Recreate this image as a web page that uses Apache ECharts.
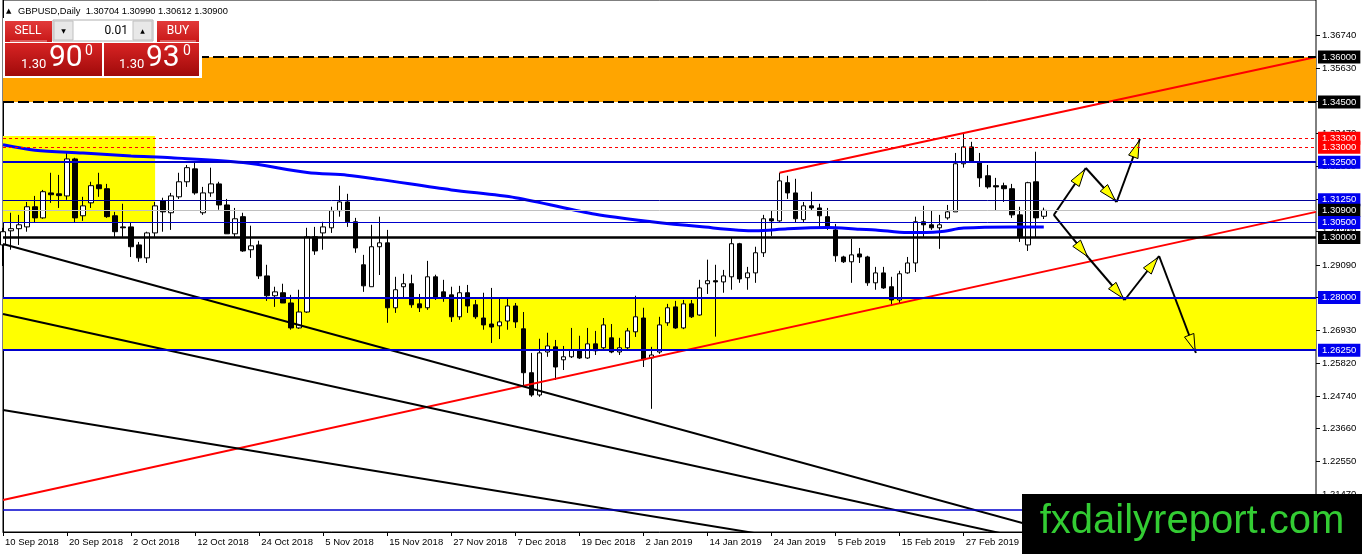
<!DOCTYPE html>
<html><head><meta charset="utf-8">
<script src="https://cdn.jsdelivr.net/npm/echarts@6/dist/echarts.min.js"></script>
<style>html,body{margin:0;padding:0;background:#fff}#c{width:1362px;height:554px}</style>
</head><body><div id="c"></div>
<script>
const dates = [
'10 Sep 2018','11 Sep 2018','12 Sep 2018','13 Sep 2018','14 Sep 2018','17 Sep 2018','18 Sep 2018','19 Sep 2018','20 Sep 2018','21 Sep 2018',
'24 Sep 2018','25 Sep 2018','26 Sep 2018','27 Sep 2018','28 Sep 2018','1 Oct 2018','2 Oct 2018','3 Oct 2018','4 Oct 2018','5 Oct 2018',
'8 Oct 2018','9 Oct 2018','10 Oct 2018','11 Oct 2018','12 Oct 2018','15 Oct 2018','16 Oct 2018','17 Oct 2018','18 Oct 2018','19 Oct 2018',
'22 Oct 2018','23 Oct 2018','24 Oct 2018','25 Oct 2018','26 Oct 2018','29 Oct 2018','30 Oct 2018','31 Oct 2018','1 Nov 2018','2 Nov 2018',
'5 Nov 2018','6 Nov 2018','7 Nov 2018','8 Nov 2018','9 Nov 2018','12 Nov 2018','13 Nov 2018','14 Nov 2018','15 Nov 2018','16 Nov 2018',
'19 Nov 2018','20 Nov 2018','21 Nov 2018','22 Nov 2018','23 Nov 2018','26 Nov 2018','27 Nov 2018','28 Nov 2018','29 Nov 2018','30 Nov 2018',
'3 Dec 2018','4 Dec 2018','5 Dec 2018','6 Dec 2018','7 Dec 2018','10 Dec 2018','11 Dec 2018','12 Dec 2018','13 Dec 2018','14 Dec 2018',
'17 Dec 2018','18 Dec 2018','19 Dec 2018','20 Dec 2018','21 Dec 2018','24 Dec 2018','26 Dec 2018','27 Dec 2018','28 Dec 2018','31 Dec 2018',
'2 Jan 2019','3 Jan 2019','4 Jan 2019','7 Jan 2019','8 Jan 2019','9 Jan 2019','10 Jan 2019','11 Jan 2019','14 Jan 2019','15 Jan 2019',
'16 Jan 2019','17 Jan 2019','18 Jan 2019','21 Jan 2019','22 Jan 2019','23 Jan 2019','24 Jan 2019','25 Jan 2019','28 Jan 2019','29 Jan 2019',
'30 Jan 2019','31 Jan 2019','1 Feb 2019','4 Feb 2019','5 Feb 2019','6 Feb 2019','7 Feb 2019','8 Feb 2019','11 Feb 2019','12 Feb 2019',
'13 Feb 2019','14 Feb 2019','15 Feb 2019','18 Feb 2019','19 Feb 2019','20 Feb 2019','21 Feb 2019','22 Feb 2019','25 Feb 2019','26 Feb 2019',
'27 Feb 2019','28 Feb 2019','1 Mar 2019','4 Mar 2019','5 Mar 2019','6 Mar 2019','7 Mar 2019','8 Mar 2019','11 Mar 2019','12 Mar 2019',
'13 Mar 2019'];
const opens = [
1.2975,1.3022,1.3029,1.3035,1.3102,1.3065,1.3148,1.3145,1.3138,1.3261,
1.3072,1.3115,1.3175,1.3162,1.3072,1.3035,1.3035,1.2975,1.2932,1.3015,
1.3122,1.3082,1.3135,1.3185,1.3228,1.3082,1.3148,1.3178,1.3108,1.3012,
1.3069,1.2959,1.2975,1.2872,1.2806,1.2816,1.2782,1.2699,1.2752,1.3002,
1.3015,1.3032,1.3089,1.3118,1.3052,1.2909,1.2836,1.2969,1.2982,1.2766,
1.2836,1.2846,1.2779,1.2766,1.2869,1.2819,1.2809,1.2736,1.2816,1.2776,
1.2732,1.2712,1.2706,1.2722,1.2772,1.2696,1.2550,1.2476,1.2619,1.2636,
1.2593,1.2603,1.2626,1.2599,1.2646,1.2633,1.2666,1.2619,1.2633,1.2686,
1.2732,1.2599,1.2619,1.2716,1.2769,1.2699,1.2779,1.2742,1.2846,1.2856,
1.2852,1.2869,1.2979,1.2866,1.2882,1.2949,1.3062,1.3055,1.3182,1.3148,
1.3059,1.3105,1.3098,1.3069,1.3025,1.2935,1.2919,1.2945,1.2935,1.2849,
1.2882,1.2836,1.2792,1.2882,1.2915,1.3052,1.3042,1.3032,1.3065,1.3085,
1.3245,1.3301,1.3251,1.3205,1.3172,1.3172,1.3162,1.3075,1.2975,1.3185,
1.30704];
const highs = [
1.3032,1.3082,1.3075,1.3118,1.3138,1.3158,1.3215,1.3208,1.3285,1.3265,
1.3135,1.3185,1.3215,1.3178,1.3085,1.3112,1.3049,1.2985,1.3019,1.3118,
1.3132,1.3148,1.3215,1.3241,1.3251,1.3168,1.3232,1.3185,1.3128,1.3098,
1.3082,1.3039,1.2989,1.2909,1.2836,1.2846,1.2809,1.2826,1.3032,1.3035,
1.3052,1.3102,1.3172,1.3145,1.3065,1.2942,1.3042,1.3069,1.3025,1.2869,
1.2879,1.2876,1.2812,1.2922,1.2876,1.2859,1.2836,1.2839,1.2842,1.2792,
1.2816,1.2832,1.2799,1.2799,1.2782,1.2752,1.2616,1.2663,1.2683,1.2659,
1.2639,1.2699,1.2673,1.2699,1.2689,1.2732,1.2712,1.2666,1.2699,1.2806,
1.2766,1.2636,1.2736,1.2779,1.2789,1.2792,1.2792,1.2859,1.2926,1.2909,
1.2892,1.2999,1.2982,1.2902,1.2969,1.3075,1.3088,1.3215,1.3205,1.3195,
1.3118,1.3152,1.3112,1.3098,1.3045,1.2939,1.2995,1.2965,1.2939,1.2902,
1.2902,1.2869,1.2889,1.2935,1.3069,1.3105,1.3089,1.3075,1.3108,1.3281,
1.3345,1.3318,1.3281,1.3241,1.3198,1.3182,1.3178,1.3102,1.3185,1.3285,
1.30990];
const lows = [
1.2905,1.2959,1.2975,1.3019,1.3049,1.3062,1.3115,1.3098,1.3125,1.3049,
1.3055,1.3098,1.3135,1.3065,1.3002,1.3002,1.2935,1.2919,1.2915,1.3002,
1.3019,1.3025,1.3128,1.3168,1.3142,1.3075,1.3135,1.3092,1.3012,1.3002,
1.2952,1.2932,1.2862,1.2789,1.2769,1.2782,1.2693,1.2696,1.2749,1.2942,
1.2959,1.3015,1.3069,1.3035,1.2949,1.2819,1.2836,1.2875,1.2716,1.2749,
1.2799,1.2766,1.2752,1.2759,1.2792,1.2786,1.2719,1.2726,1.2749,1.2729,
1.2693,1.2649,1.2662,1.2693,1.2699,1.2503,1.2470,1.2470,1.2603,1.2526,
1.2559,1.2599,1.2596,1.2596,1.2609,1.2626,1.2615,1.2609,1.2626,1.2669,
1.2569,1.2430,1.2613,1.2706,1.2696,1.2695,1.2732,1.2740,1.2812,1.2670,
1.2816,1.2826,1.2849,1.2826,1.2849,1.2935,1.3005,1.3052,1.3128,1.3049,
1.3049,1.3089,1.3035,1.3025,1.2919,1.2915,1.2849,1.2915,1.2839,1.2826,
1.2829,1.2772,1.2779,1.2879,1.2885,1.3002,1.3025,1.2962,1.3059,1.3085,
1.3232,1.3248,1.3168,1.3162,1.3089,1.3118,1.3065,1.2985,1.2955,1.2999,
1.30612];
const closes = [
1.3019,1.3029,1.3042,1.3102,1.3065,1.3152,1.3142,1.3139,1.3261,1.3065,
1.3105,1.3172,1.3162,1.3069,1.3019,1.3032,1.2969,1.2932,1.3015,1.3105,
1.3085,1.3138,1.3185,1.3232,1.3148,1.3148,1.3178,1.3108,1.3012,1.3062,
1.2955,1.2972,1.2872,1.2806,1.2819,1.2782,1.2699,1.2752,1.3002,1.2955,
1.3035,1.3089,1.3118,1.3052,1.2965,1.2839,1.2969,1.2982,1.2766,1.2826,
1.2846,1.2776,1.2766,1.2869,1.2799,1.2802,1.2736,1.2816,1.2772,1.2736,
1.2709,1.2702,1.2719,1.2772,1.2719,1.2550,1.2476,1.2616,1.2639,1.2569,
1.2603,1.2626,1.2599,1.2646,1.2623,1.2709,1.2619,1.2633,1.2689,1.2736,
1.2593,1.2609,1.2709,1.2766,1.2699,1.2779,1.2736,1.2832,1.2856,1.2852,
1.2872,1.2979,1.2862,1.2882,1.2949,1.3062,1.3055,1.3188,1.3148,1.3062,
1.3105,1.3098,1.3072,1.3035,1.2939,1.2919,1.2942,1.2935,1.2849,1.2882,
1.2832,1.2792,1.2879,1.2915,1.3052,1.3042,1.3032,1.3042,1.3085,1.3245,
1.3301,1.3251,1.3198,1.3168,1.3168,1.3162,1.3075,1.3002,1.3182,1.3065,
1.30900];
const futureSlots = 34;
const yTicks = [1.36740,1.35630,1.34550,1.33470,1.32360,1.31280,1.30200,1.29090,1.28010,1.26930,1.25820,1.24740,1.23660,1.22550,1.21470];
// moving average read at selected bars [barIndex, price]
const maPoints = [[0,1.3308],[4,1.3290],[10,1.3281],[16,1.3271],[21,1.3265],[30,1.3249],[38,1.3216],[43,1.3207],[47,1.3193],[56,1.3158],[64,1.3132],[74,1.3077],[81,1.3052],[87,1.3036],[94,1.3022],[98,1.3029],[103,1.3033],[107,1.3027],[109,1.3025],[113,1.3016],[117,1.3019],[120,1.3031],[126,1.3035],[130,1.3035]];
const levels = [1.36000,1.34500,1.33300,1.33000,1.32500,1.31250,1.30900,1.30500,1.30000,1.28000,1.26250,1.20940];
const orangeZone = [1.34500,1.36000];
const yellowZone = [1.26250,1.28000];
const yellowBox = [0,19,1.30480,1.33370];
const redLower = [[0,1.2127],[164,1.3085]];
const redUpper = [[97,1.3215],[164,1.3600]];
const blackA = [[0,1.2978],[164,1.1783]];
const blackB = [[0,1.2745],[164,1.1786]];
const blackC = [[0,1.2426],[164,1.1711]];
const arrowSegs = [
 [131.25,1.30746,135.25,1.32309],[135.25,1.32309,139.1,1.31178],[139.1,1.31178,142,1.33273],
 [131.25,1.30746,135.6,1.29316],[135.6,1.29316,140.1,1.27919],[140.1,1.27919,144.4,1.29382],[144.4,1.29382,149,1.26156]
];
const header = 'GBPUSD,Daily  1.30704 1.30990 1.30612 1.30900';

const cats = dates.concat(new Array(futureSlots).fill(''));
const lastSlot = cats.length - 1;
const candleData = opens.map((o,i)=>[o, closes[i], lows[i], highs[i]]);
const FF = '"Liberation Sans", Arial, sans-serif';
const BLUE = '#0000cc', BOXBLUE = '#0000ee', RED = '#ff0000';
const levelStyle = [
 {c:'#000',w:2,t:[11,4],box:'#000'},
 {c:'#000',w:2,t:[11,4],box:'#000'},
 {c:RED,w:1,t:[3,3],box:RED},
 {c:RED,w:1,t:[3,3],box:RED},
 {c:BLUE,w:2,t:'solid',box:BOXBLUE},
 {c:'#000099',w:1,t:'solid',box:BOXBLUE},
 {c:'#c0c0c0',w:1,t:'solid',box:'#000'},
 {c:BLUE,w:1,t:'solid',box:BOXBLUE},
 {c:'#000',w:2.5,t:'solid',box:'#000'},
 {c:BLUE,w:2,t:'solid',box:BOXBLUE},
 {c:BLUE,w:2,t:'solid',box:BOXBLUE},
 {c:BLUE,w:1.5,t:'solid',box:null}
];
const markLineData = levels.map((v,i)=>{
  const s = levelStyle[i];
  return {yAxis:v, lineStyle:{color:s.c,width:s.w,type:s.t},
    label: s.box ? {show:true,position:'end',distance:2,formatter:v.toFixed(5),backgroundColor:s.box,color:'#fff',
      fontSize:9.5,fontFamily:FF,lineHeight:11,padding:[1,4,1,4]} : {show:false}};
});
function tl(data,color){
  return {type:'line',xAxisIndex:1,yAxisIndex:0,data:data,symbol:'none',z:3,silent:true,clip:true,
    lineStyle:{color:color,width:2}};
}
const chart = echarts.init(document.getElementById('c'));
const red = (a,b)=>new echarts.graphic.LinearGradient(0,0,0,1,[{offset:0,color:a},{offset:1,color:b}]);
chart.setOption({
  animation:false,
  backgroundColor:'#fff',
  grid:{left:3,right:46,top:0,bottom:22,show:true,borderColor:'#000',borderWidth:1,backgroundColor:'#fff'},
  xAxis:[
    {type:'category',data:cats,boundaryGap:false,
     axisLine:{lineStyle:{color:'#000',width:1}},
     axisTick:{show:true,interval:7,length:4,lineStyle:{color:'#000'}},
     axisLabel:{interval:7,align:'left',color:'#000',fontSize:9.5,fontFamily:FF,margin:5,padding:[0,0,0,2]},
     splitLine:{show:false}},
    {type:'value',min:0,max:lastSlot,show:false}
  ],
  yAxis:[{type:'value',position:'right',min:1.20203,max:1.37896,
    axisLine:{show:true,lineStyle:{color:'#000'}},
    axisTick:{show:false},
    axisLabel:{show:false},
    splitLine:{show:false},minorTick:{show:false},minorSplitLine:{show:false}}],
  series:[
    {type:'candlestick',xAxisIndex:0,yAxisIndex:0,data:candleData,barWidth:5,z:2,silent:true,
     itemStyle:{color:'#ffffff',color0:'#000000',borderColor:'#000000',borderColor0:'#000000',borderWidth:1},
     markArea:{silent:true,data:[
       [{yAxis:orangeZone[0],itemStyle:{color:'#ffa500'}},{yAxis:orangeZone[1]}],
       [{yAxis:yellowZone[0],itemStyle:{color:'#ffff00'}},{yAxis:yellowZone[1]}],
       [{xAxis:yellowBox[0],yAxis:yellowBox[2],itemStyle:{color:'#ffff00'}},{xAxis:yellowBox[1],yAxis:yellowBox[3]}]
     ]},
     markLine:{silent:true,symbol:['none','none'],precision:5,animation:false,data:markLineData}
    },
    tl(redLower,RED), tl(redUpper,RED),
    tl(blackA,'#000'), tl(blackB,'#000'), tl(blackC,'#000'),
    {type:'line',xAxisIndex:1,yAxisIndex:0,data:maPoints,symbol:'none',smooth:0.3,z:3,silent:true,
     lineStyle:{color:'#0000ff',width:3}},
    {type:'custom',xAxisIndex:1,yAxisIndex:0,z:1,silent:true,clip:false,
     dimensions:['x','y'],encode:{x:0,y:1},data:yTicks.map(v=>[lastSlot,v]),
     renderItem:function(params,api){
       const p = api.coord([api.value(0),api.value(1)]);
       const y = Math.round(p[1])+0.5;
       return {type:'group',children:[
         {type:'line',shape:{x1:p[0],y1:y,x2:p[0]+4,y2:y},style:{stroke:'#000',lineWidth:1}},
         {type:'text',x:p[0]+6,y:y,style:{text:api.value(1).toFixed(5),fill:'#000',font:'9.5px '+FF,verticalAlign:'middle'}}
       ]};
     }},
    {type:'custom',xAxisIndex:1,yAxisIndex:0,z:4,silent:true,
     dimensions:['x1','y1','x2','y2'],encode:{x:[0,2],y:[1,3]},data:arrowSegs,
     renderItem:function(params,api){
       const p1 = api.coord([api.value(0),api.value(1)]);
       const p2 = api.coord([api.value(2),api.value(3)]);
       const dx=p2[0]-p1[0], dy=p2[1]-p1[1], L=Math.sqrt(dx*dx+dy*dy);
       const ux=dx/L, uy=dy/L, nx=-uy, ny=ux;
       const tip=[p2[0]-2*ux,p2[1]-2*uy];
       const base=[tip[0]-17*ux,tip[1]-17*uy];
       return {type:'group',children:[
         {type:'line',shape:{x1:p1[0],y1:p1[1],x2:p2[0],y2:p2[1]},style:{stroke:'#000',lineWidth:2}},
         {type:'polygon',shape:{points:[tip,[base[0]+5*nx,base[1]+5*ny],[base[0]-5*nx,base[1]-5*ny]]},
          style:{fill:'#ffff00',stroke:'#000',lineWidth:1}}
       ]};
     }}
  ],
  graphic:[
    {type:'text',x:6,y:11,z:100,style:{text:'▲',fill:'#000',font:'7px "DejaVu Sans"',verticalAlign:'middle'}},
    {type:'text',x:18,y:11,z:100,style:{text:header,fill:'#000',font:'9.3px '+FF,verticalAlign:'middle'}},
    {type:'rect',z:100,shape:{x:3,y:18,width:199,height:60},style:{fill:'#fff'}},
    {type:'rect',z:101,shape:{x:5,y:21,width:47,height:21},style:{fill:red('#e23a3a','#c81818')}},
    {type:'line',z:102,shape:{x1:10,y1:41,x2:47,y2:41},style:{stroke:'#f4a0a0',lineWidth:1}},
    {type:'text',x:28,y:31,z:102,style:{text:'SELL',fill:'#fff',font:'12px Roboto',align:'center',verticalAlign:'middle'}},
    {type:'rect',z:101,shape:{x:53,y:20,width:100,height:21},style:{fill:'#fff',stroke:'#b0b0b0',lineWidth:1}},
    {type:'rect',z:102,shape:{x:54,y:21,width:19,height:19},style:{fill:'#e8e8e8',stroke:'#c0c0c0',lineWidth:1}},
    {type:'rect',z:102,shape:{x:133,y:21,width:19,height:19},style:{fill:'#e8e8e8',stroke:'#c0c0c0',lineWidth:1}},
    {type:'text',x:63.5,y:31,z:103,style:{text:'▼',fill:'#000',font:'6px "DejaVu Sans"',align:'center',verticalAlign:'middle'}},
    {type:'text',x:142.5,y:31,z:103,style:{text:'▲',fill:'#000',font:'6px "DejaVu Sans"',align:'center',verticalAlign:'middle'}},
    {type:'text',x:128,y:31,z:103,style:{text:'0.01',fill:'#000',font:'12px Roboto',align:'right',verticalAlign:'middle'}},
    {type:'rect',z:101,shape:{x:157,y:21,width:42,height:21},style:{fill:red('#e23a3a','#c81818')}},
    {type:'line',z:102,shape:{x1:160,y1:41,x2:196,y2:41},style:{stroke:'#f4a0a0',lineWidth:1}},
    {type:'text',x:178,y:31,z:102,style:{text:'BUY',fill:'#fff',font:'12px Roboto',align:'center',verticalAlign:'middle'}},
    {type:'rect',z:101,shape:{x:5,y:43,width:97,height:33},style:{fill:red('#d82424','#a00a0a')}},
    {type:'rect',z:101,shape:{x:104,y:43,width:95,height:33},style:{fill:red('#d82424','#a00a0a')}},
    {type:'text',x:21,y:65,z:102,style:{text:'1.30',fill:'#fff',font:'13px Roboto',verticalAlign:'middle'}},
    {type:'text',x:49,y:58,z:102,style:{text:'90',fill:'#fff',font:'30px Roboto',verticalAlign:'middle'}},
    {type:'text',x:85,y:51,z:102,style:{text:'0',fill:'#fff',font:'14px Roboto',verticalAlign:'middle'}},
    {type:'text',x:119,y:65,z:102,style:{text:'1.30',fill:'#fff',font:'13px Roboto',verticalAlign:'middle'}},
    {type:'text',x:146,y:58,z:102,style:{text:'93',fill:'#fff',font:'30px Roboto',verticalAlign:'middle'}},
    {type:'text',x:183,y:51,z:102,style:{text:'0',fill:'#fff',font:'14px Roboto',verticalAlign:'middle'}},
    {type:'rect',z:110,shape:{x:1022,y:494,width:340,height:60},style:{fill:'#000'}},
    {type:'text',x:1192,y:522,z:111,style:{text:'fxdailyreport.com',fill:'#33cc33',font:'40px '+FF,align:'center',verticalAlign:'middle'}}
  ]
});
</script></body></html>
